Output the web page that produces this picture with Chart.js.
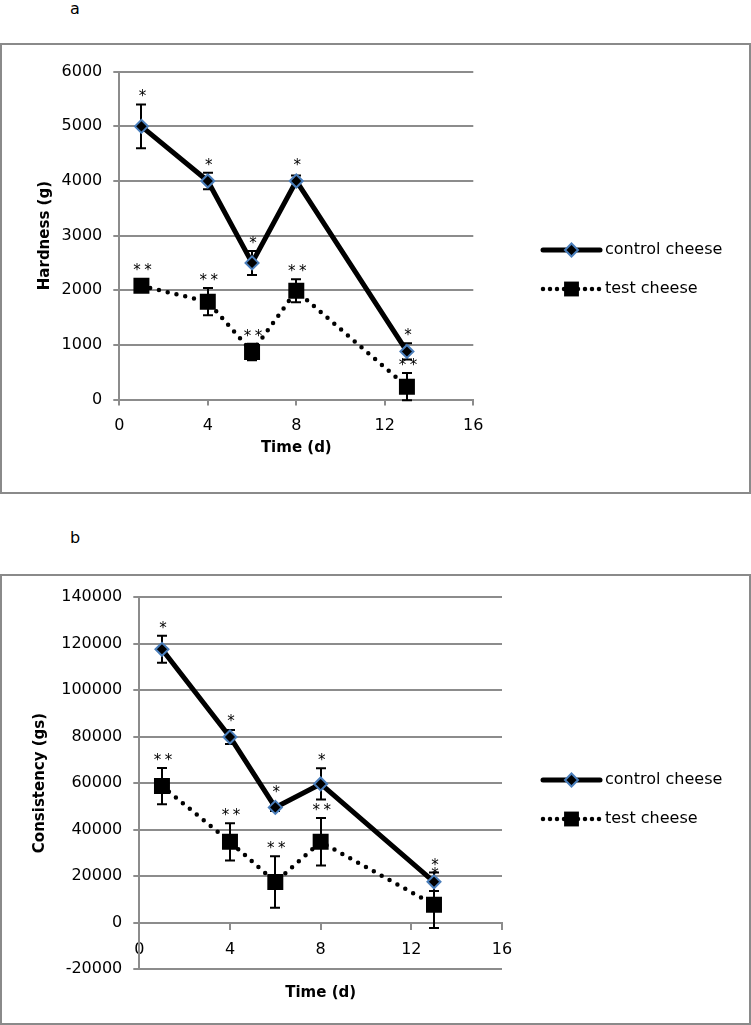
<!DOCTYPE html>
<html><head><meta charset="utf-8">
<script src="https://cdn.jsdelivr.net/npm/chart.js@4.4.0/dist/chart.umd.min.js"></script>
<style>
html,body{margin:0;padding:0;background:#fff;}
body{width:751px;height:1025px;position:relative;overflow:hidden;font-family:"DejaVu Sans";}
.frame{position:absolute;box-sizing:border-box;border:2px solid #8a8a8a;pointer-events:none;}
.lbl{position:absolute;font:16px "DejaVu Sans";color:#000;line-height:1;}
.cw{position:absolute;left:0;width:751px;}
</style></head><body>
<div class="lbl" style="left:70px;top:1px">a</div>
<div class="frame" style="left:0;top:43px;width:751px;height:451px"></div>
<div class="cw" style="top:0;height:500px"><canvas id="ca"></canvas></div>
<div class="lbl" style="left:70px;top:530px">b</div>
<div class="frame" style="left:0;top:574px;width:751px;height:451px"></div>
<div class="cw" style="top:520px;height:505px"><canvas id="cb"></canvas></div>
<script>
// ---------- data ----------
const days = [1, 4, 6, 8, 13];
const xTicks = [0, 4, 8, 12, 16];
const seriesNames = ['control cheese', 'test cheese'];

const hardnessControl    = [5000, 4000, 2500, 4000, 880];
const hardnessControlErr = [400, 150, 220, 100, 150];
const hardnessTest       = [2080, 1790, 870, 1990, 235];
const hardnessTestErr    = [100, 250, 150, 210, 250];
const hardnessControlMarks = ['*', '*', '*', '*', '*'];
const hardnessTestMarks    = ['**', '**', '**', '**', '**'];
const hardnessTicks = [0, 1000, 2000, 3000, 4000, 5000, 6000];

const consistencyControl    = [117500, 79800, 49500, 59600, 17500];
const consistencyControlErr = [5800, 3000, 1500, 6700, 4000];
const consistencyTest       = [58700, 34700, 17400, 34700, 7600];
const consistencyTestErr    = [7800, 8000, 11100, 10200, 10000];
const consistencyControlMarks = ['*', '*', '*', '*', '*'];
const consistencyTestMarks    = ['**', '**', '**', '**', '*'];
const consistencyTicks = [-20000, 0, 20000, 40000, 60000, 80000, 100000, 120000, 140000];

const FONT = '"DejaVu Sans"';
const GRID = '#8c8c8c';

// ---------- plugins ----------
const errorBars = {
  id: 'errorBars',
  beforeDatasetsDraw(chart) {
    const {ctx} = chart; const xs = chart.scales.x, ys = chart.scales.y;
    ctx.save();
    ctx.strokeStyle = '#000'; ctx.lineWidth = 2;
    chart.data.datasets.forEach(ds => {
      ds.data.forEach((p, i) => {
        const e = ds.errors[i];
        const px = Math.round(xs.getPixelForValue(p.x));
        const t = ys.getPixelForValue(p.y + e), b = ys.getPixelForValue(p.y - e);
        ctx.beginPath();
        ctx.moveTo(px, t); ctx.lineTo(px, b);
        ctx.moveTo(px - 5, t); ctx.lineTo(px + 5, t);
        ctx.moveTo(px - 5, b); ctx.lineTo(px + 5, b);
        ctx.stroke();
      });
    });
    ctx.restore();
  }
};

function drawSpaced(ctx, txt, cx, baseY, gap) {
  const n = txt.length;
  for (let k = 0; k < n; k++) ctx.fillText(txt[k], cx + (k - (n - 1) / 2) * gap, baseY);
}

const starMarks = {
  id: 'starMarks',
  afterDatasetsDraw(chart) {
    const {ctx} = chart; const xs = chart.scales.x, ys = chart.scales.y;
    ctx.save();
    ctx.font = '15px ' + FONT; ctx.fillStyle = '#000';
    ctx.textAlign = 'center'; ctx.textBaseline = 'alphabetic';
    chart.data.datasets.forEach(ds => {
      const half = ds.pointStyle === 'rect' ? ds.pointRadius * Math.SQRT1_2 : ds.pointRadius + ds.pointBorderWidth / 2;
      ds.data.forEach((p, i) => {
        const px = xs.getPixelForValue(p.x);
        const top = Math.min(ys.getPixelForValue(p.y + ds.errors[i]), ys.getPixelForValue(p.y) - half);
        drawSpaced(ctx, ds.marks[i], px + 1, top - 11 + 8, 11);
      });
    });
    ctx.restore();
  }
};

function drawMarker(ctx, ds, x, y) {
  ctx.save();
  ctx.fillStyle = ds.pointBackgroundColor;
  ctx.strokeStyle = ds.pointBorderColor;
  ctx.lineWidth = ds.pointBorderWidth;
  ctx.beginPath();
  if (ds.pointStyle === 'rect') {
    const s = ds.pointRadius * Math.SQRT1_2;
    ctx.rect(x - s, y - s, 2 * s, 2 * s);
  } else {
    const r = ds.pointRadius;
    ctx.moveTo(x, y - r); ctx.lineTo(x + r, y); ctx.lineTo(x, y + r); ctx.lineTo(x - r, y); ctx.closePath();
  }
  ctx.fill();
  if (ds.pointBorderWidth > 0) ctx.stroke();
  ctx.restore();
}

const sideLegend = {
  id: 'sideLegend',
  afterDraw(chart, args, opts) {
    const {ctx} = chart;
    chart.data.datasets.forEach((ds, i) => {
      const yy = opts.top + i * opts.gap;
      const x0 = opts.left, x1 = opts.left + opts.len;
      ctx.save();
      ctx.strokeStyle = ds.borderColor; ctx.lineWidth = ds.borderWidth;
      ctx.lineCap = ds.borderCapStyle || 'round';
      ctx.setLineDash(ds.borderDash ? [0, 7] : []);
      ctx.beginPath(); ctx.moveTo(x0, yy); ctx.lineTo(x1, yy); ctx.stroke();
      ctx.restore();
      drawMarker(ctx, Object.assign({}, ds, {pointRadius: ds.pointStyle === 'rect' ? 10.5 : ds.pointRadius}), (x0 + x1) / 2, yy);
      ctx.save();
      ctx.font = '16px ' + FONT; ctx.fillStyle = '#000';
      ctx.textAlign = 'left'; ctx.textBaseline = 'middle';
      ctx.fillText(ds.label, x1 + 5, yy);
      ctx.restore();
    });
  }
};

// ---------- chart builder ----------
function makeChart(id, c) {
  const pts = arr => days.map((d, i) => ({x: d, y: arr[i]}));
  const tickFont = {family: 'DejaVu Sans', size: 16};
  const titleFont = {family: 'DejaVu Sans', size: 15, weight: 'bold'};
  return new Chart(document.getElementById(id), {
    type: 'line',
    data: {
      datasets: [
        {label: seriesNames[0], data: pts(c.control), errors: c.controlErr, marks: c.controlMarks,
         borderColor: '#000', borderWidth: 5, borderCapStyle: 'round', borderJoinStyle: 'round', tension: 0,
         pointStyle: 'rectRot', pointRadius: 6.5, pointHoverRadius: 6.5,
         pointBackgroundColor: '#000', pointBorderColor: '#4a7ebb', pointBorderWidth: 2},
        {label: seriesNames[1], data: pts(c.test), errors: c.testErr, marks: c.testMarks,
         borderColor: '#000', borderWidth: 4.5, borderDash: [0, 9], borderCapStyle: 'round', tension: 0,
         pointStyle: 'rect', pointRadius: 11.3, pointHoverRadius: 11.3,
         pointBackgroundColor: '#000', pointBorderColor: '#000', pointBorderWidth: 0}
      ]
    },
    options: {
      responsive: true, maintainAspectRatio: false, animation: false, devicePixelRatio: 1,
      events: [],
      layout: {padding: c.padding},
      plugins: {
        legend: {display: false}, tooltip: {enabled: false},
        sideLegend: c.legend
      },
      scales: {
        x: {
          type: 'linear', min: 0, max: 16, position: c.xPosition,
          afterBuildTicks: a => { a.ticks = xTicks.map(v => ({value: v})); },
          afterFit: a => { a.height = c.xHeight; },
          ticks: {font: tickFont, color: '#000', padding: c.xPad, maxRotation: 0, autoSkip: false,
                  callback: v => String(v)},
          grid: {drawOnChartArea: false, drawTicks: true, tickLength: 6, color: GRID, lineWidth: 2},
          border: {color: GRID, width: 2},
          title: {display: true, text: 'Time (d)', font: titleFont, color: '#000', padding: {top: 0, bottom: c.xTitlePad}}
        },
        y: {
          type: 'linear', min: c.yTicks[0], max: c.yTicks[c.yTicks.length - 1],
          afterBuildTicks: a => { a.ticks = c.yTicks.map(v => ({value: v})); },
          afterFit: a => { a.width = c.yWidth; },
          ticks: {font: tickFont, color: '#000', padding: 11, callback: v => String(v)},
          grid: {color: GRID, lineWidth: 2, tickLength: 6},
          border: {color: GRID, width: 2},
          title: {display: true, text: c.yTitle, font: titleFont, color: '#000', padding: {top: 4, bottom: 4}}
        }
      }
    },
    plugins: [errorBars, starMarks, sideLegend]
  });
}

makeChart('ca', {
  control: hardnessControl, controlErr: hardnessControlErr, controlMarks: hardnessControlMarks,
  test: hardnessTest, testErr: hardnessTestErr, testMarks: hardnessTestMarks,
  yTicks: hardnessTicks, yTitle: 'Hardness (g)',
  padding: {left: 32, top: 71.7, right: 277.7, bottom: 38.5},
  yWidth: 87.3, xHeight: 62, xPad: 11, xTitlePad: 4, xPosition: 'bottom',
  legend: {left: 543, len: 57, top: 250, gap: 39}
});

makeChart('cb', {
  control: consistencyControl, controlErr: consistencyControlErr, controlMarks: consistencyControlMarks,
  test: consistencyTest, testErr: consistencyTestErr, testMarks: consistencyTestMarks,
  yTicks: consistencyTicks, yTitle: 'Consistency (gs)',
  padding: {left: 27, top: 77, right: 249, bottom: 56},
  yWidth: 112.3, xHeight: 80, xPad: 12, xTitlePad: 0, xPosition: {y: 0},
  legend: {left: 543, len: 57, top: 260, gap: 39}
});
</script>
</body></html>
